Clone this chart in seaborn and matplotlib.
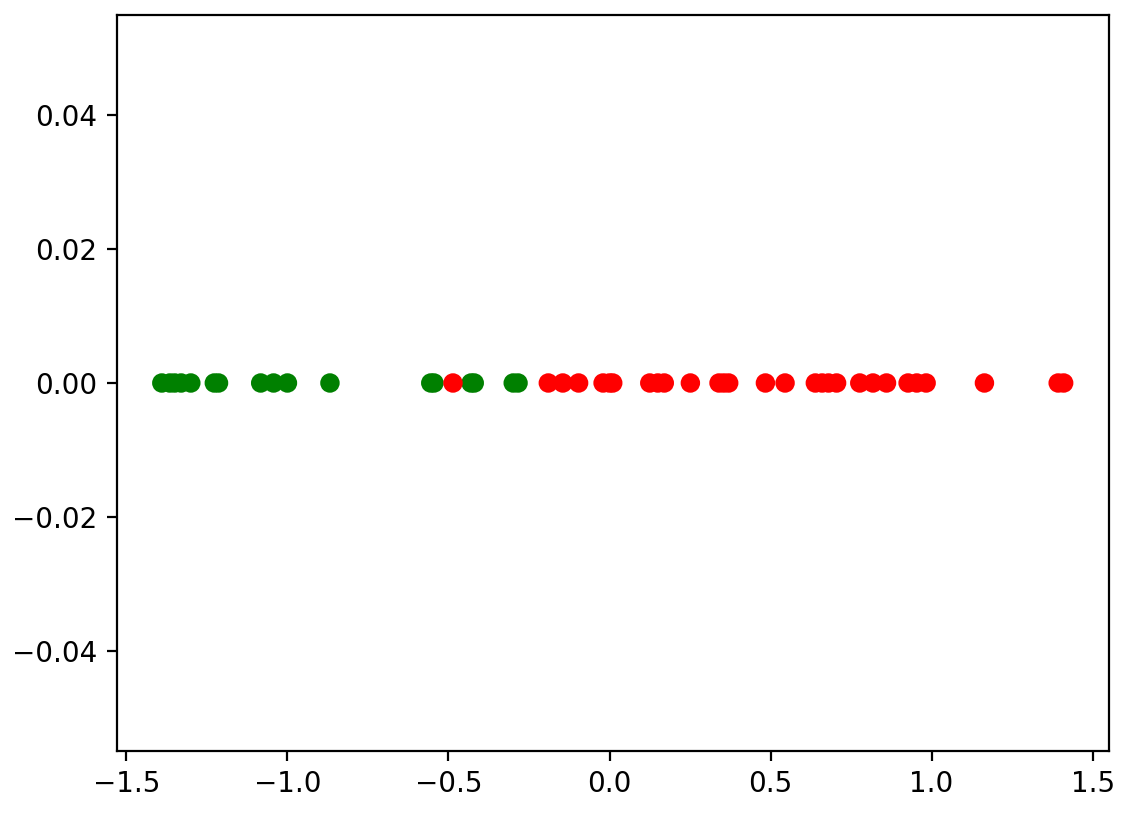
import pandas as pd
import numpy as np
import matplotlib
matplotlib.use('Agg')
import matplotlib.pyplot as plt
import seaborn as sns

# projected values on one axis, two classes
green_x = [-1.39, -1.365, -1.35, -1.33, -1.30, -1.227, -1.214, -1.083, -1.043, -1.0,
           -0.868, -0.555, -0.545, -0.43, -0.42, -0.299, -0.284]
red_x = [-0.486, -0.19, -0.145, -0.096, -0.02, 0.0, 0.01, 0.125, 0.15, 0.17, 0.251,
         0.34, 0.355, 0.37, 0.484, 0.545, 0.639, 0.66, 0.68, 0.705, 0.777, 0.818,
         0.86, 0.927, 0.954, 0.983, 1.164, 1.393, 1.41]

df = pd.DataFrame({
    'x': green_x + red_x,
    'y': [0.0] * (len(green_x) + len(red_x)),
    'label': ['g'] * len(green_x) + ['r'] * len(red_x),
})

fig, ax = plt.subplots(figsize=(5.65, 4.09), dpi=200)
fig.subplots_adjust(left=0.1033, right=0.9812, top=0.9817, bottom=0.0819)

sns.scatterplot(data=df, x='x', y='y', hue='label', palette={'g': 'green', 'r': 'red'},
                s=36, edgecolor='face', linewidth=1, legend=False, ax=ax)
ax.set_xlabel('')
ax.set_ylabel('')

plt.savefig('out.png', dpi=200)
